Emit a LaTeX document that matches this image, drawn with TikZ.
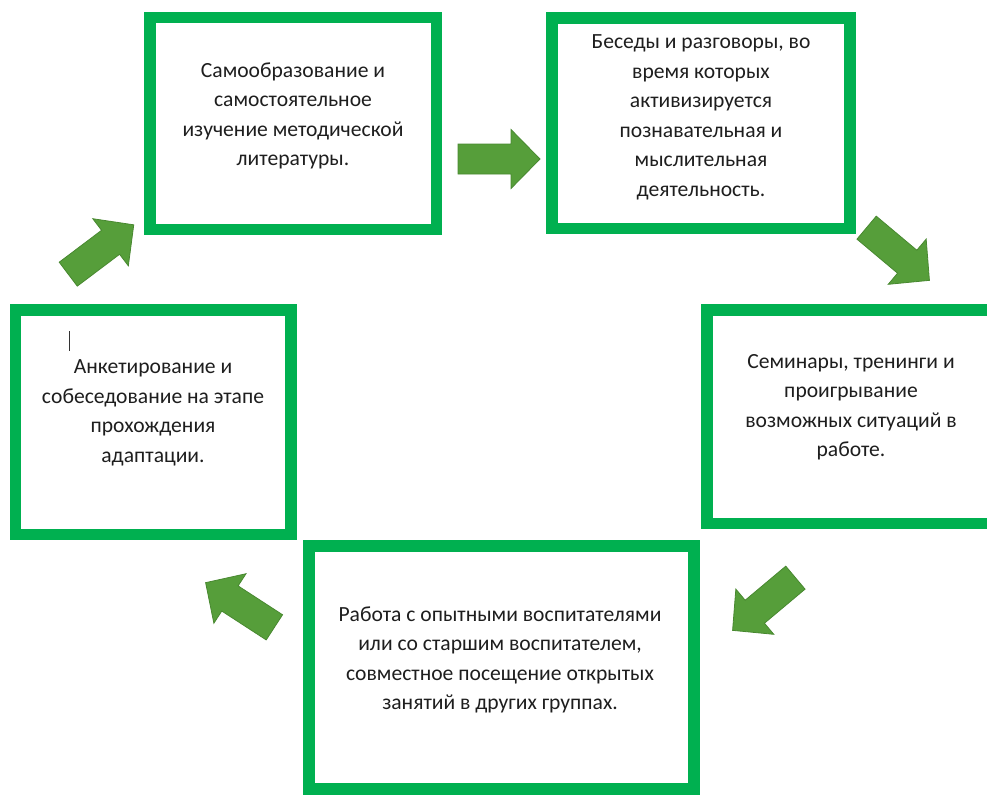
\documentclass[tikz,border=0pt]{standalone}
\usepackage{fontspec}
\setmainfont{Carlito}
\definecolor{boxgreen}{RGB}{0,176,80}
\definecolor{arrowgreen}{RGB}{86,158,58}
\definecolor{arrowedge}{RGB}{72,136,48}
\definecolor{inkgrey}{RGB}{30,30,30}

\tikzset{
  card/.style = {draw=boxgreen, line width=11.5pt, rectangle, fill=white, inner sep=0pt},
  txt/.style = {align=center, inner sep=0pt, text=inkgrey, font=\fontsize{21.6}{29.5}\selectfont},
  blockarrow/.pic = {
    \draw[fill=arrowgreen, draw=arrowedge, line width=0.8pt, line join=miter]
      (-41,-15) -- (12,-15) -- (12,-29.5) -- (41,0) -- (12,29.5) -- (12,15) -- (-41,15) -- cycle;
  }
}

\begin{document}
\begin{tikzpicture}[x=1pt, y=-1pt]
\useasboundingbox (0,0) rectangle (987,795);

\begin{scope}
\clip (0,0) rectangle (987,795);

\node[card, minimum width=286.5pt, minimum height=212pt] (B1) at (293.25, 123.5) {};
\node[card, minimum width=298pt, minimum height=210.5pt] (B2) at (701, 123.25) {};
\node[card, minimum width=293pt, minimum height=213.5pt] (B3) at (853.5, 416.75) {};
\node[card, minimum width=385pt, minimum height=243pt] (B4) at (501.5, 667.5) {};
\node[card, minimum width=275.5pt, minimum height=224.5pt] (B5) at (153.25, 422.25) {};

\node[txt] (T1) at (293, 116) {Самообразование и\\самостоятельное\\изучение методической\\литературы.};
\node[txt] (T2) at (701, 117.5) {Беседы и разговоры, во\\время которых\\активизируется\\познавательная и\\мыслительная\\деятельность.};
\node[txt] (T3) at (851, 407) {Семинары, тренинги и\\проигрывание\\возможных ситуаций в\\работе.};
\node[txt] (T4) at (500, 660) {Работа с опытными воспитателями\\или со старшим воспитателем,\\совместное посещение открытых\\занятий в других группах.};
\node[txt] (T5) at (153, 413) {Анкетирование и\\собеседование на этапе\\прохождения\\адаптации.};

% cursor
\coordinate (C1) at (69, 331);
\coordinate (C2) at (69, 351);
\draw[line width=1pt, black!80] (C1) -- (C2);

\pic[rotate=37] (A1) at (101, 249.5) {blockarrow};
\pic (A2) at (499, 159) {blockarrow};
\pic[rotate=-40] (A3) at (898, 254) {blockarrow};
\pic[rotate=-140] (A4) at (764, 604) {blockarrow};
\pic[rotate=147] (A5) at (240, 605) {blockarrow};

\end{scope}
\end{tikzpicture}
\end{document}
